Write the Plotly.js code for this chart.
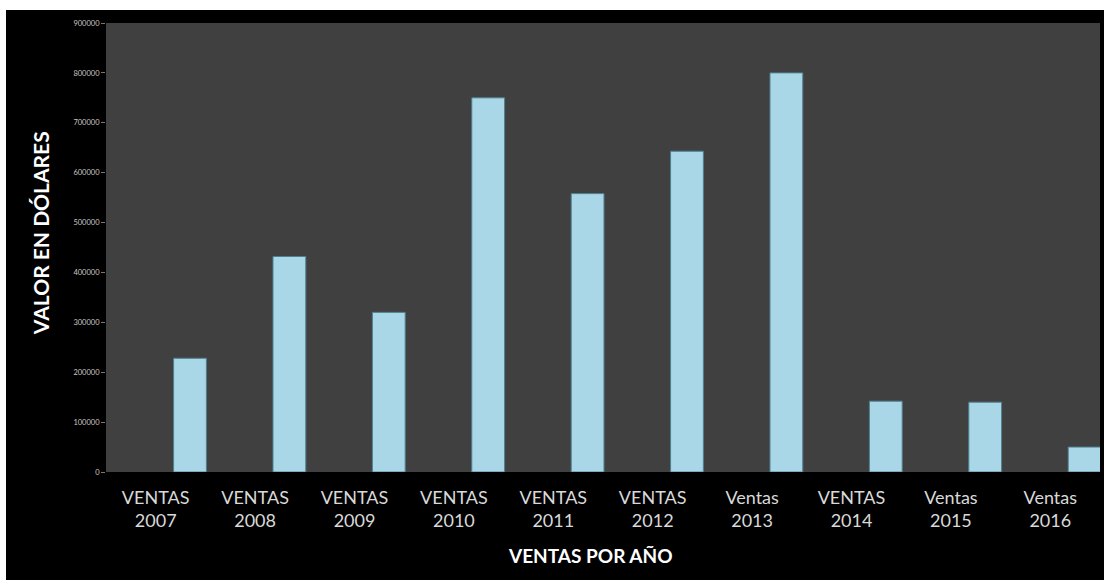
<!DOCTYPE html>
<html>
<head>
<meta charset="utf-8">
<script src="https://cdn.plot.ly/plotly-3.0.1.min.js"></script>
<style>
  html, body { margin: 0; padding: 0; background: #ffffff; }
  #chart { position: absolute; left: 6px; top: 10px; width: 1098px; height: 570px; }
</style>
</head>
<body>
<div id="chart"></div>
<script>
const categories = ['VENTAS<br>2007', 'VENTAS<br>2008', 'VENTAS<br>2009', 'VENTAS<br>2010', 'VENTAS<br>2011',
                    'VENTAS<br>2012', 'Ventas<br>2013', 'VENTAS<br>2014', 'Ventas<br>2015', 'Ventas<br>2016'];
const ventas = [228000, 432000, 320000, 750000, 558000, 643000, 800000, 142000, 140000, 50000];
const yTicks = [0, 100000, 200000, 300000, 400000, 500000, 600000, 700000, 800000, 900000];
const xTitle = 'VENTAS POR AÑO';
const yTitle = 'VALOR EN DÓLARES';

const trace = {
  type: 'bar',
  x: categories,
  y: ventas,
  width: 0.33,
  offset: 0.18,
  marker: { color: '#a9d7e8', line: { color: '#4f7f8f', width: 1 } },
  hoverinfo: 'x+y'
};

const layout = {
  width: 1098,
  height: 570,
  paper_bgcolor: '#000000',
  plot_bgcolor: '#404040',
  margin: { l: 100, r: 4, t: 13, b: 108 },
  showlegend: false,
  font: { family: 'Lato, "Open Sans", sans-serif', color: '#d9d9d9' },
  xaxis: {
    type: 'category',
    tickfont: { size: 18, color: '#d9d9d9', family: 'Lato, sans-serif' },
    ticks: '',
    ticklabelstandoff: 13,
    showgrid: false,
    zeroline: false,
    showline: false,
    range: [-0.5, 9.5]
  },
  yaxis: {
    range: [0, 900000],
    tickvals: yTicks,
    ticktext: yTicks.map(v => String(v)),
    tickfont: { size: 7.5, color: '#c8c8c8', family: 'Lato, sans-serif' },
    ticks: 'outside',
    ticklen: 4,
    tickcolor: '#777777',
    showgrid: false,
    zeroline: false,
    showline: false
  },
  annotations: [
    {
      text: '<b>' + xTitle + '</b>',
      xref: 'paper', yref: 'paper',
      x: 0.487, y: -0.185,
      xanchor: 'center', yanchor: 'middle',
      showarrow: false,
      font: { size: 19, color: '#ffffff', family: 'Lato, sans-serif' }
    },
    {
      text: '<b>' + yTitle + '</b>',
      xref: 'paper', yref: 'paper',
      x: -0.0664, y: 0.532,
      xanchor: 'center', yanchor: 'middle',
      textangle: -90,
      showarrow: false,
      font: { size: 21, color: '#ffffff', family: 'Lato, sans-serif' }
    }
  ]
};

Plotly.newPlot('chart', [trace], layout, { displayModeBar: false, staticPlot: true });
</script>
</body>
</html>
